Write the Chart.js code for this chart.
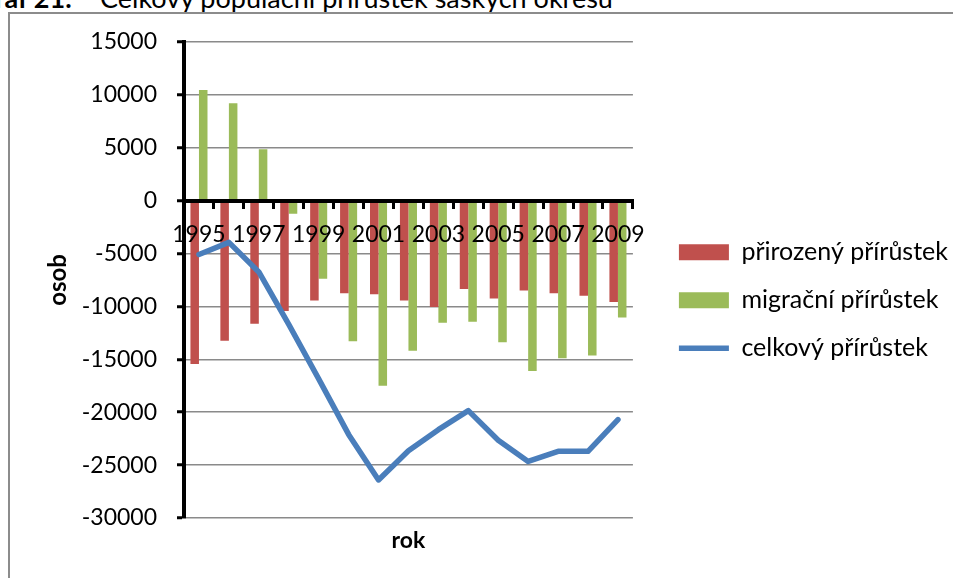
<!DOCTYPE html>
<html lang="cs">
<head>
<meta charset="UTF-8">
<title>Graf 21</title>
<script src="https://cdn.jsdelivr.net/npm/chart.js"></script>
<style>
    body { margin: 0; width: 953px; height: 578px; overflow: hidden; background: #fff; font-family: Lato, sans-serif; position: relative; }
    .caption { position: absolute; top: -16px; font-size: 27px; line-height: 27px; white-space: nowrap; color: #000; }
    #capBold { right: 881px; font-weight: bold; }
    #capText { left: 100px; }
    .frame { position: absolute; left: 8px; top: 12px; width: 1200px; height: 800px; border-left: 2px solid #8c8c8c; border-top: 2px solid #8c8c8c; }
    .box { position: absolute; left: 9px; top: 8px; width: 944px; height: 570px; }
</style>
</head>
<body>
<div class="caption" id="capBold">Graf 21:</div>
<div class="caption" id="capText">Celkový populační přírůstek saských okresů</div>
<div class="frame"></div>
<div class="box"><canvas id="chart"></canvas></div>
<script>
    const years = ['1995', '1996', '1997', '1998', '1999', '2000', '2001', '2002', '2003', '2004', '2005', '2006', '2007', '2008', '2009'];
    const natural = [-15450, -13250, -11650, -10450, -9450, -8750, -8850, -9450, -10050, -8350, -9250, -8500, -8750, -9000, -9600];
    const migration = [10450, 9200, 4850, -1250, -7400, -13300, -17500, -14200, -11550, -11450, -13400, -16100, -14900, -14650, -11050];
    const total = [-5100, -3950, -6750, -11700, -16850, -22100, -26400, -23650, -21650, -19850, -22650, -24650, -23700, -23700, -20700];
    const seriesNames = ['přirozený přírůstek', 'migrační přírůstek', 'celkový přírůstek'];
    const yMin = -30000, yMax = 15000, yStep = 5000;
    const xTitle = 'rok';
    const yTitle = 'osob';

    const font = { family: 'Lato', size: 23 };

    // move legend a bit away from plot and down, like in excel
    const legendShift = {
        id: 'legendShift',
        afterLayout(chart) {
            chart.legend.left += 23;
            chart.legend.right += 23;
            chart.legend.top += 19;
            chart.legend.bottom += 19;
        }
    };

    new Chart(document.getElementById('chart'), {
        data: {
            labels: years,
            datasets: [
                { type: 'bar', label: seriesNames[0], data: natural, backgroundColor: '#C0504D', pointStyle: 'rect', order: 1, categoryPercentage: 0.57, barPercentage: 1 },
                { type: 'bar', label: seriesNames[1], data: migration, backgroundColor: '#9BBB59', pointStyle: 'rect', order: 1, categoryPercentage: 0.57, barPercentage: 1 },
                { type: 'line', label: seriesNames[2], data: total, borderColor: '#4A7EBB', backgroundColor: '#4A7EBB', borderWidth: 5.5, pointRadius: 0, pointStyle: 'line', borderCapStyle: 'round', borderJoinStyle: 'round', tension: 0, order: 0 }
            ]
        },
        options: {
            responsive: true,
            maintainAspectRatio: false,
            animation: false,
            layout: { padding: { left: 0, top: 0, right: 18, bottom: 23.4 } },
            scales: {
                x: {
                    position: { y: 0 },
                    grid: { drawOnChartArea: false, color: '#000', tickColor: '#000', tickLength: 6, lineWidth: 3, z: 1 },
                    border: { color: '#000', width: 4, z: 1 },
                    ticks: {
                        autoSkip: false, maxRotation: 0, padding: 14, color: '#000', font: font, z: 1,
                        callback: (v, i) => i % 2 === 0 ? years[i] : ''
                    }
                },
                y: {
                    min: yMin, max: yMax,
                    afterFit(scale) { scale.width = 175; },
                    grid: { color: '#8a8a8a', lineWidth: 1.5, tickColor: '#000', tickLength: 7, tickWidth: 3 },
                    border: { color: '#000', width: 4 },
                    ticks: { stepSize: yStep, padding: 20, color: '#000', font: font, callback: v => String(v) },
                    title: { display: true, text: yTitle, color: '#000', font: { family: 'Lato', size: 24, weight: 'bold' }, padding: { top: 35, bottom: 0 } }
                }
            },
            plugins: {
                legend: {
                    position: 'right',
                    maxWidth: 400,
                    labels: {
                        sort: (a, b) => a.datasetIndex - b.datasetIndex,
                        usePointStyle: true, pointStyleWidth: 50, boxHeight: 16,
                        padding: 23, color: '#000', font: { family: 'Lato', size: 25 }
                    }
                },
                title: {
                    display: true, position: 'bottom', fullSize: false, text: xTitle, color: '#000',
                    font: { family: 'Lato', size: 23, weight: 'bold' }, padding: { top: 9, bottom: 0 }
                },
                tooltip: { enabled: false }
            }
        },
        plugins: [legendShift]
    });
</script>
</body>
</html>
